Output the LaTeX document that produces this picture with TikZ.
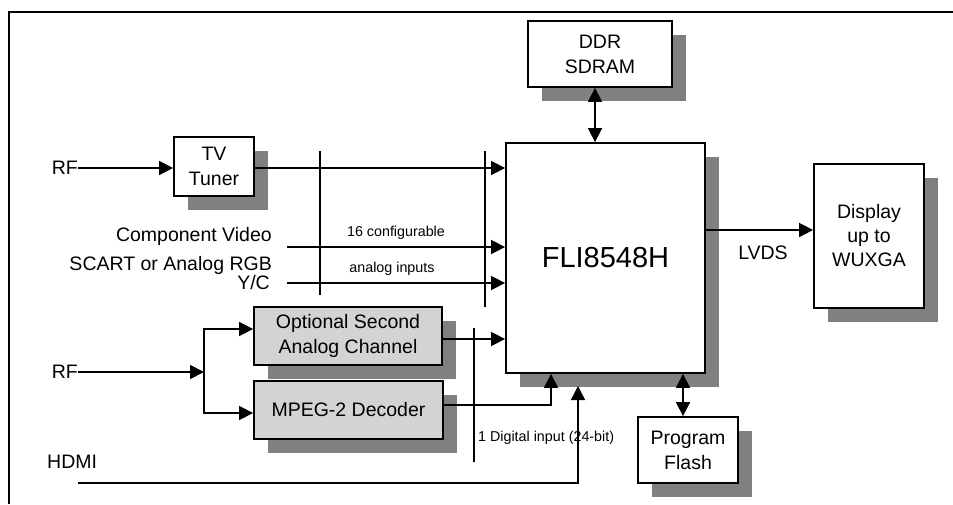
\documentclass[tikz,border=0pt]{standalone}
\usepackage{fontspec}
\setmainfont{Liberation Sans}
\usetikzlibrary{arrows.meta,shadows}
\definecolor{shgray}{HTML}{808080}
\definecolor{boxgray}{HTML}{D3D3D3}
\tikzset{
  blk/.style={draw=black,line width=1.8pt,fill=white,inner sep=0pt,align=center,font=\fontsize{19.5}{25}\selectfont,
    drop shadow={shadow xshift=14pt,shadow yshift=-14pt,fill=shgray,opacity=1}},
  gblk/.style={blk,fill=boxgray},
  lbl/.style={inner sep=0pt,font=\fontsize{19.5}{24}\selectfont},
  small/.style={inner sep=0pt,font=\fontsize{14.3}{17}\selectfont},
  conn/.style={line width=1.6pt},
  arr/.style={conn,-{Triangle[length=14pt,width=14pt]}},
  darr/.style={conn,{Triangle[length=14pt,width=14pt]}-{Triangle[length=14pt,width=14pt]}},
  bus/.style={line width=1.6pt}
}
\begin{document}
\begin{tikzpicture}[x=1pt,y=-1pt]
\useasboundingbox (0,0) rectangle (953,504);
% frame
\draw[line width=2pt] (9,504) -- (9,12) -- (953,12);

% blocks
\node[blk,minimum width=80pt,minimum height=59pt] (tuner) at (214,166.5) {TV\\Tuner};
\node[blk,minimum width=199pt,minimum height=230pt,font=\fontsize{29}{34}\selectfont] (fli) at (605.5,258) {FLI8548H};
\node[blk,minimum width=144pt,minimum height=66pt] (ddr) at (600,54) {DDR\\SDRAM};
\node[blk,minimum width=110pt,minimum height=144pt,font=\fontsize{19.5}{24}\selectfont] (disp) at (869,236) {Display\\up to\\WUXGA};
\node[gblk,minimum width=188pt,minimum height=58pt] (opt) at (348,336) {Optional Second\\Analog Channel};
\node[gblk,minimum width=189pt,minimum height=58pt] (mpeg) at (348.5,410) {MPEG-2 Decoder};
\node[blk,minimum width=100pt,minimum height=66pt] (flash) at (688,450) {Program\\Flash};

% labels
\node[lbl,anchor=east] (rf1) at (78,168) {RF};
\node[lbl,anchor=east] (rf2) at (78,372) {RF};
\node[lbl,anchor=west] (hdmi) at (47,462) {HDMI};
\node[lbl,anchor=east] (cv) at (272,236) {Component Video};
\node[lbl,anchor=east] (scart) at (272,265) {SCART or Analog RGB};
\node[lbl,anchor=east] (yc) at (270,283) {Y/C};
\node[small] (cfg) at (396,233) {16 configurable};
\node[small] (ain) at (392,269) {analog inputs};
\node[small,anchor=west] (dig) at (478,438) {1 Digital input (24-bit)};
\node[lbl] (lvds) at (763,253) {LVDS};

% coordinates
\coordinate (cvin) at (287,247);
\coordinate (ycin) at (287,283);
\coordinate (split) at (204,372);
\coordinate (hdin) at (78,483);
\coordinate (hdend) at (578,386);
\coordinate (busAt) at (320,151);
\coordinate (busAb) at (320,295);
\coordinate (busBt) at (485,151);
\coordinate (busBb) at (485,307);
\coordinate (busCt) at (474,328);
\coordinate (busCb) at (474,462);

% bus lines
\draw[bus] (busAt) -- (busAb);
\draw[bus] (busBt) -- (busBb);
\draw[bus] (busCt) -- (busCb);

% connectors
\draw[arr] (rf1.east) -- (tuner.west |- rf1.east);
\draw[arr] ([yshift=-1.5pt]tuner.east) -- ([yshift=-1.5pt]tuner.east -| fli.west);
\draw[arr] (cvin) -- (cvin -| fli.west);
\draw[arr] (ycin) -- (ycin -| fli.west);
\draw[arr] ([yshift=-3pt]opt.east) -- ([yshift=-3pt]opt.east -| fli.west);
\draw[arr] (rf2.east) -- (split);
\draw[arr] (split) |- ([yshift=7pt]opt.west);
\draw[arr] (split) |- ([yshift=-3pt]mpeg.west);
\draw[arr] ([yshift=5pt]mpeg.east) -| ([xshift=-54.5pt]fli.south);
\draw[arr] (hdin) -| (hdend);
\draw[darr] ([xshift=-5pt]ddr.south) -- ([xshift=-5pt]ddr.south |- fli.north);
\draw[darr] ([xshift=-5pt]flash.north) -- ([xshift=-5pt]flash.north |- fli.south);
\draw[arr] ([yshift=28pt]fli.east) -- ([yshift=28pt]fli.east -| disp.west);
\end{tikzpicture}
\end{document}
